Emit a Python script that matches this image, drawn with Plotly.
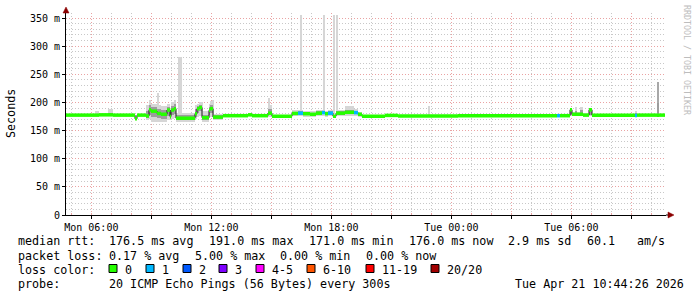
import plotly.graph_objects as go
from datetime import datetime, timedelta

# ---------------- data ----------------
step_start = ["Mon 04:44", "Mon 06:11", "Mon 06:23", "Mon 06:50", "Mon 07:05", "Mon 08:11", "Mon 08:17",
              "Mon 08:44", "Mon 08:53", "Mon 08:59", "Mon 09:17", "Mon 09:29", "Mon 09:47", "Mon 09:56",
              "Mon 09:59", "Mon 10:08", "Mon 10:14", "Mon 11:11", "Mon 11:17", "Mon 11:23", "Mon 11:32",
              "Mon 11:53", "Mon 11:56", "Mon 12:05", "Mon 12:35", "Mon 13:50", "Mon 14:02", "Mon 14:50",
              "Mon 15:02", "Mon 16:02", "Mon 16:20", "Mon 16:35", "Mon 16:56", "Mon 17:14", "Mon 17:32",
              "Mon 17:41", "Mon 17:50", "Mon 18:05", "Mon 18:14", "Mon 18:41", "Mon 19:08", "Mon 19:20",
              "Mon 19:32", "Mon 20:41", "Mon 21:20", "Tue 00:20", "Tue 05:17", "Tue 05:26", "Tue 05:56",
              "Tue 06:02", "Tue 06:11", "Tue 06:17", "Tue 06:26", "Tue 06:35", "Tue 06:53", "Tue 07:02",
              "Tue 09:11", "Tue 09:17", "Tue 10:17", "Tue 10:23"]
data_end = "Tue 10:41"
median_ms = [177.5, 177.5, 178.0, 178.0, 177.5, 171.0, 177.5,
             176.0, 187.0, 184.5, 180.5, 179.0, 186.5, 175.0,
             186.5, 189.0, 172.0, 180.0, 189.0, 191.0, 173.0,
             186.0, 189.0, 174.0, 176.5, 178.0, 176.5, 181.0,
             175.5, 180.5, 181.0, 180.0, 179.0, 181.0, 182.0,
             180.0, 181.0, 175.5, 181.0, 182.5, 182.0, 179.0,
             175.5, 177.0, 176.0, 176.5, 176.5, 176.5, 187.0,
             179.0, 179.0, 179.0, 179.0, 177.5, 187.0, 177.5,
             177.0, 177.5, 177.5, 177.5]
loss_count = [0, 0, 0, 0, 0, 0, 0,
              0, 0, 0, 0, 0, 0, 0,
              0, 0, 0, 0, 0, 0, 0,
              0, 0, 0, 0, 0, 0, 0,
              0, 0, 1, 0, 0, 0, 1,
              0, 1, 0, 0, 0, 1, 0,
              0, 0, 0, 0, 1, 0, 0,
              0, 0, 0, 0, 0, 0, 0,
              1, 0, 0, 0]
smoke_lo = [175.5, 175.5, 176, 176, 175.5, 169, 175.5,
            168, 170, 166, 165, 166, 168, 168,
            170, 172, 165, 170, 175, 176, 166,
            172, 175, 168, 175, 176, 175, 174,
            174, 176, 176, 175, 175, 176, 176,
            175, 176, 174, 176, 176, 176, 175,
            174, 175.5, 175, 175.5, 175.5, 175.5, 176,
            176, 176, 176, 176, 176, 176, 176,
            176, 176, 176, 176]
smoke_hi = [179.5, 184, 179.5, 189, 179.5, 176, 179.5,
            195, 204, 198, 195, 193, 197, 190,
            200, 205, 182, 195, 198, 200, 185,
            198, 202, 180, 178, 181, 178, 196,
            177, 186, 186, 185, 184, 186, 187,
            185, 186, 178, 186, 194, 188, 183,
            177, 178.5, 177.5, 178, 178, 178, 190,
            183, 192, 183, 192, 181, 189, 179,
            184, 179, 199, 179]
core_lo = [176.5, 176.5, 177, 177, 176.5, 170, 176.5,
           172, 178, 175, 172, 171, 176, 171,
           178, 180, 168, 174, 181, 184, 169,
           178, 181, 171, 175.5, 177, 175.5, 177,
           174.5, 178, 178, 177, 176, 178, 179,
           177, 178, 174.5, 178, 179, 179, 176,
           174.5, 176, 175.5, 176, 176, 176, 178,
           177, 177, 177, 177, 177, 178, 176.5,
           176.5, 176.5, 177, 176.5]
core_hi = [178.5, 179, 179, 181, 178.5, 174, 178.5,
           184, 195, 192, 188, 186, 192, 183,
           194, 197, 177, 188, 194, 196, 178,
           192, 195, 177, 177.5, 179.5, 177.5, 188,
           176.5, 183, 184, 183, 182, 184, 185,
           183, 184, 177, 184, 187, 185, 181,
           176.5, 178, 176.5, 177, 177, 177, 188,
           181, 185, 181, 186, 179, 188, 178.5,
           181, 178.5, 199, 178.5]

spike_start = ["Mon 09:17", "Mon 10:20", "Mon 11:26", "Mon 12:02", "Mon 14:50",
               "Mon 16:26", "Mon 17:35", "Mon 18:05", "Mon 18:14", "Mon 22:50"]
spike_end = ["Mon 09:22", "Mon 10:32", "Mon 11:35", "Mon 12:08", "Mon 14:56",
             "Mon 16:32", "Mon 17:41", "Mon 18:09", "Mon 18:20", "Mon 22:56"]
spike_lo = [180, 170, 180, 180, 180, 180, 180, 180, 180, 178]
spike_hi = [216, 281, 201, 204, 208, 355, 355, 355, 355, 194]

heavy_spike_start = ["Tue 10:17"]
heavy_spike_end = ["Tue 10:23"]
heavy_spike_lo = [199]
heavy_spike_hi = [237]

x_tick_times = ["Mon 06:00", "Mon 09:00", "Mon 12:00", "Mon 15:00", "Mon 18:00",
                "Mon 21:00", "Tue 00:00", "Tue 03:00", "Tue 06:00", "Tue 09:00"]
x_tick_text = ["Mon 06:00", "", "Mon 12:00", "", "Mon 18:00", "", "Tue 00:00", "", "Tue 06:00", ""]
y_tick_vals = [0, 50, 100, 150, 200, 250, 300, 350]
y_tick_text = ["0", "50 m", "100 m", "150 m", "200 m", "250 m", "300 m", "350 m"]

loss_labels = ["0", "1", "2", "3", "4-5", "6-10", "11-19", "20/20"]
loss_upper = [0, 1, 2, 3, 5, 10, 19, 20]
loss_colors = ["#26ff00", "#00b8ff", "#0059ff", "#7e00ff", "#ff00ff", "#ff5500", "#ff0000", "#a10000"]

rtt_tokens = ["median rtt:", "176.5 ms avg", "191.0 ms max", "171.0 ms min", "176.0 ms now",
              "2.9 ms sd", "60.1", "am/s"]
pl_tokens = ["packet loss:", "0.17 % avg", "5.00 % max", "0.00 % min", "0.00 % now"]
probe_tokens = ["probe:", "20 ICMP Echo Pings (56 Bytes) every 300s", "Tue Apr 21 10:44:26 2026"]
range_start = "Mon 04:44"
range_end = "Tue 10:44"


# ---------------- helpers ----------------
def ts(s):
    d, hm = s.split()
    base = datetime(2026, 4, 20) if d == "Mon" else datetime(2026, 4, 21)
    h, m = map(int, hm.split(":"))
    return base + timedelta(hours=h, minutes=m)


W, H = 697, 297
L, R, T, B = 66, 31, 13, 82
PW, PH = W - L - R, H - T - B


def pxx(px):
    return (px - L) / PW


def pyy(py):
    return (H - B - py) / PH


starts = [ts(s) for s in step_start]
ends = starts[1:] + [ts(data_end)]


def bars(st, en, lo, hi, color):
    cen = [a + (b - a) / 2 for a, b in zip(st, en)]
    wid = [(b - a).total_seconds() * 1000 for a, b in zip(st, en)]
    return go.Bar(x=cen, y=[h - l for l, h in zip(lo, hi)], base=lo, width=wid,
                  marker=dict(color=color, line=dict(width=0)), hoverinfo="skip",
                  showlegend=False)


fig = go.Figure()
fig.add_trace(bars(starts, ends, smoke_lo, smoke_hi, "#d6d6d6"))
fig.add_trace(bars([ts(s) for s in spike_start], [ts(s) for s in spike_end], spike_lo, spike_hi, "#d6d6d6"))
fig.add_trace(bars(starts, ends, core_lo, core_hi, "#9c9c9c"))
fig.add_trace(bars([ts(s) for s in heavy_spike_start], [ts(s) for s in heavy_spike_end],
                   heavy_spike_lo, heavy_spike_hi, "#a8a8a8"))

# thin dark median (visible on the vertical transitions)
fig.add_trace(go.Scatter(x=starts + [ts(data_end)], y=median_ms + [median_ms[-1]],
                         mode="lines", line=dict(color="#1a1a1a", width=1, shape="hv"),
                         hoverinfo="skip", showlegend=False))


def bucket(n):
    for i, u in enumerate(loss_upper):
        if n <= u:
            return i
    return len(loss_upper) - 1


for bi, col in enumerate(loss_colors):
    xs, ys = [], []
    for a, b, m, n in zip(starts, ends, median_ms, loss_count):
        if bucket(n) == bi:
            xs += [a, b, None]
            ys += [m, m, None]
    if xs:
        fig.add_trace(go.Scatter(x=xs, y=ys, mode="lines", line=dict(color=col, width=3.5),
                                 hoverinfo="skip", showlegend=False, connectgaps=False))

MONO = "DejaVu Sans Mono"
GRID_MINOR = "#c8c8c8"
GRID_MAJOR = "#eaa3a3"

fig.update_layout(
    width=W, height=H, margin=dict(l=L, r=R, t=T, b=B),
    paper_bgcolor="white", plot_bgcolor="white", barmode="overlay", bargap=0,
    font=dict(family=MONO, size=10, color="#000"),
    xaxis=dict(type="date", range=[ts(range_start), ts(range_end)],
               tickvals=[ts(s) for s in x_tick_times], ticktext=x_tick_text,
               showgrid=True, gridcolor=GRID_MAJOR, griddash="1px,2px", gridwidth=1,
               minor=dict(dtick=3600000, tick0=ts("Mon 06:00"), showgrid=True, gridcolor=GRID_MINOR,
                          griddash="1px,2px", ticks="inside", ticklen=2, tickcolor=GRID_MAJOR),
               showline=True, linecolor="#000", linewidth=1, zeroline=False,
               ticks="outside", ticklen=3, tickcolor="#000", tickfont=dict(family=MONO, size=10)),
    yaxis=dict(range=[0, 359], tickvals=y_tick_vals, ticktext=y_tick_text,
               showgrid=True, gridcolor=GRID_MAJOR, griddash="1px,2px", gridwidth=1,
               minor=dict(dtick=10, tick0=0, showgrid=True, gridcolor=GRID_MINOR, griddash="1px,2px"),
               showline=True, linecolor="#000", linewidth=1, zeroline=False,
               ticks="outside", ticklen=3, tickcolor="#000", tickfont=dict(family=MONO, size=10)),
)

shapes = []
# axis extensions + arrows
shapes.append(dict(type="line", xref="paper", yref="paper", x0=1, x1=pxx(669), y0=0, y1=0,
                   line=dict(color="#000", width=1)))
shapes.append(dict(type="line", xref="paper", yref="paper", x0=0, x1=0, y0=1, y1=pyy(10),
                   line=dict(color="#000", width=1)))
shapes.append(dict(type="path", xref="paper", yref="paper",
                   path=f"M {pxx(674)},{pyy(215)} L {pxx(668)},{pyy(212)} L {pxx(668)},{pyy(218)} Z",
                   fillcolor="#8b0000", line=dict(color="#8b0000", width=0.5)))
shapes.append(dict(type="path", xref="paper", yref="paper",
                   path=f"M {pxx(66)},{pyy(7)} L {pxx(63)},{pyy(13)} L {pxx(69)},{pyy(13)} Z",
                   fillcolor="#8b0000", line=dict(color="#8b0000", width=0.5)))

annotations = []
FS = 11.7


def txt(s, px, py, size=FS, color="#000", angle=0, xanchor="left"):
    annotations.append(dict(text=s, x=pxx(px), y=pyy(py), xref="paper", yref="paper",
                            showarrow=False, xanchor=xanchor, yanchor="middle", textangle=angle,
                            font=dict(family=MONO, size=size, color=color)))


for tok, px in zip(rtt_tokens, [16, 107, 207, 307, 407, 506, 585, 635]):
    txt(tok, px, 241.5)
for tok, px in zip(pl_tokens, [16, 107, 193, 278, 364]):
    txt(tok, px, 255.5)
txt("loss color:", 16, 269.5)
sq_x = [109, 146, 183, 219, 256, 307, 366, 431]
lab_x = [123, 160, 197, 233, 270, 321, 380, 445]
for lab, col, sx, lx in zip(loss_labels, loss_colors, sq_x, lab_x):
    shapes.append(dict(type="rect", xref="paper", yref="paper", x0=pxx(sx), x1=pxx(sx + 8),
                       y0=pyy(272.5), y1=pyy(264.5), fillcolor=col, line=dict(color="#000", width=1)))
    txt(lab, lx, 269.5)
for tok, px in zip(probe_tokens, [16, 107, 513]):
    txt(tok, px, 283.5)

txt("Seconds", 11, 114, angle=-90, xanchor="center")
txt("RRDTOOL / TOBI OETIKER", 687, 60, size=8.3, color="#bdbdbd", angle=90, xanchor="center")

fig.update_layout(shapes=shapes, annotations=annotations)
fig.write_html("out.html")
